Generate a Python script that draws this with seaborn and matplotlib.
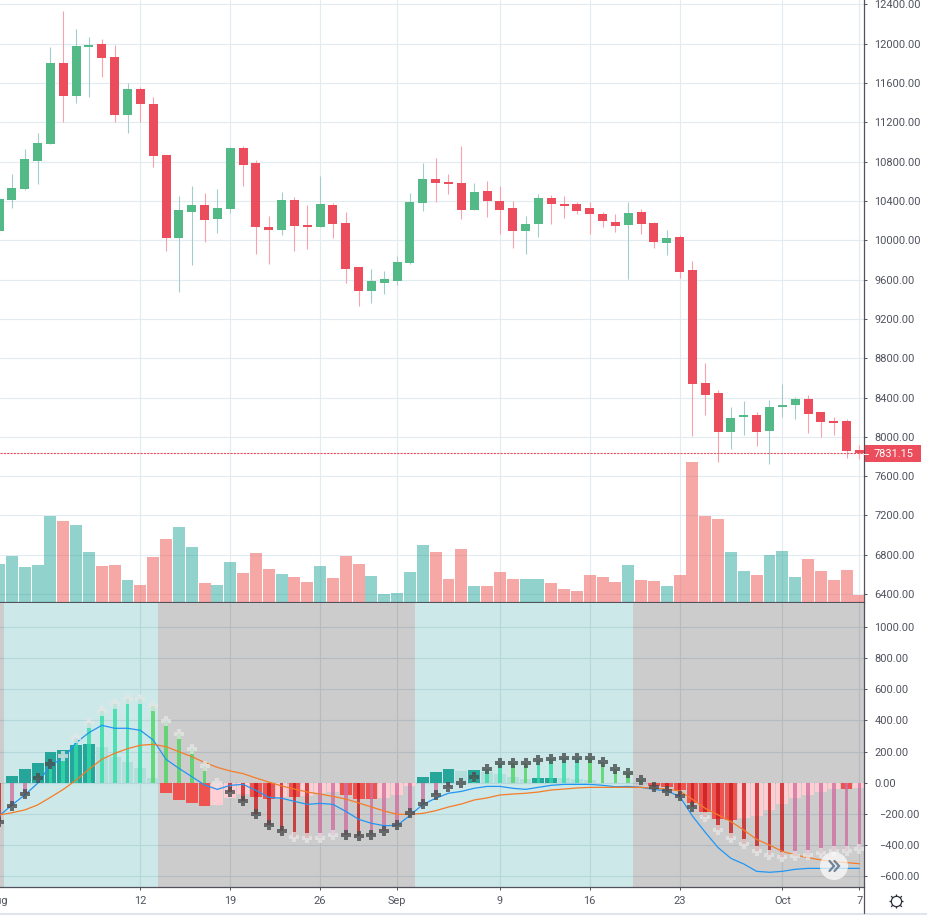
import numpy as np
import pandas as pd
import matplotlib
matplotlib.use("Agg")
import matplotlib.pyplot as plt
import seaborn as sns

# daily candles, 1 Aug to 7 Oct
opens = [10095, 10410, 10522, 10807, 10980, 11805, 11469, 11968, 11998, 11866, 11275, 11540, 11387, 10868,
         10023, 10288, 10359, 10217, 10319, 10940, 10787, 10135, 10105, 10410, 10156, 10135, 10359, 10176,
         9728, 9484, 9565, 9586, 9769, 10380, 10624, 10594, 10584, 10309, 10502, 10400, 10329, 10095,
         10166, 10431, 10370, 10370, 10329, 10268, 10187, 10156, 10288, 10176, 9973, 10034, 9698, 8548,
         8446, 8049, 8202, 8222, 8059, 8303, 8324, 8385, 8253, 8161, 8161, 7866]
closes = [10420, 10532, 10828, 10990, 11805, 11469, 11978, 11988, 11856, 11275, 11540, 11387, 10858, 10023,
          10308, 10359, 10207, 10329, 10940, 10766, 10135, 10105, 10410, 10146, 10135, 10369, 10166, 9708,
          9484, 9586, 9606, 9779, 10390, 10624, 10583, 10573, 10309, 10492, 10400, 10309, 10095, 10166,
          10431, 10370, 10349, 10298, 10268, 10197, 10146, 10278, 10166, 9983, 10024, 9678, 8538, 8426,
          8049, 8191, 8222, 8049, 8303, 8324, 8385, 8232, 8151, 8141, 7856, 7831.15]
highs = [10460, 10675, 10929, 11092, 11968, 12334, 12151, 12069, 12049, 11988, 11601, 11560, 11459, 10868,
         10451, 10553, 10481, 10522, 10950, 10960, 10817, 10247, 10492, 10441, 10359, 10654, 10380, 10288,
         9728, 9708, 9687, 9840, 10481, 10787, 10838, 10675, 10960, 10584, 10604, 10553, 10400, 10248,
         10472, 10461, 10451, 10390, 10390, 10288, 10268, 10390, 10319, 10187, 10105, 10054, 9790, 8751,
         8476, 8303, 8364, 8253, 8375, 8538, 8405, 8426, 8253, 8202, 8181, 7917]
lows = [10050, 10329, 10512, 10573, 10980, 11204, 11398, 11459, 11662, 11204, 11092, 11204, 10746, 9891,
        9474, 9749, 9983, 10074, 10278, 10553, 9860, 9759, 10054, 9891, 9911, 10135, 10023, 9565,
        9331, 9362, 9453, 9545, 9759, 10298, 10390, 10472, 10217, 10309, 10237, 10064, 9922, 9861,
        10034, 10166, 10227, 10268, 10064, 10136, 10085, 9606, 10064, 9922, 9851, 9616, 8008, 8222,
        7744, 7876, 8018, 7906, 7723, 8202, 8181, 8039, 7998, 8018, 7784, 7774]
volumes = [38, 46, 35, 37, 86, 81, 77, 50, 36, 37, 22, 17, 45, 63, 75, 55, 19, 17, 40, 29, 49, 33, 28,
           25, 20, 36, 24, 46, 38, 26, 8, 9, 30, 57, 50, 23, 53, 16, 16, 30, 23, 23, 23, 19, 13, 11, 27,
           25, 20, 37, 22, 21, 16, 27, 140, 86, 83, 50, 31, 27, 47, 51, 25, 43, 31, 22, 32, 7]

# lower panel indicator
hist = [0, 43, 88, 126, 197, 210, 242, 248, 229, 165, 133, 94, 30, -66, -111, -130, -150, -143, -98, -73,
        -92, -105, -92, -92, -86, -66, -60, -79, -105, -105, -98, -79, -21, 36, 68, 88, 75, 81, 68, 56, 36,
        24, 30, 30, 28, 24, 17, 0, 0, 0, 0, -21, -28, -47, -133, -190, -233, -240, -227, -214, -175, -137,
        -98, -79, -60, -41, -41, -34]
momentum = [-254, -150, -75, 28, 118, 173, 284, 381, 462, 505, 535, 537, 492, 394, 310, 214, 105, -4, -62,
            -120, -203, -274, -312, -351, -357, -357, -338, -338, -344, -338, -312, -274, -197, -139, -81,
            -26, 0, 39, 86, 124, 124, 124, 143, 150, 156, 158, 156, 130, 86, 60, 15, -30, -56, -88, -158,
            -222, -306, -357, -396, -441, -466, -479, -473, -466, -453, -441, -441, -428]
macd_line = [-214, -143, -79, -4, 113, 156, 257, 321, 368, 349, 349, 336, 274, 150, 92, 39, -15, -43, -17,
             -11, -49, -94, -100, -120, -139, -133, -139, -184, -235, -261, -276, -274, -210, -140, -100,
             -68, -56, -36, -24, -24, -36, -43, -30, -17, -11, -11, -11, -17, -26, -24, -30, -43, -53, -88,
             -214, -319, -417, -486, -522, -569, -575, -569, -556, -550, -550, -550, -550, -550]
signal_line = [-207, -193, -175, -143, -94, -43, 17, 86, 150, 188, 218, 240, 246, 231, 199, 167, 130, 98, 75,
               58, 30, 4, -21, -41, -60, -73, -88, -105, -130, -156, -182, -203, -203, -197, -180, -156,
               -137, -111, -98, -79, -73, -68, -60, -47, -41, -34, -30, -30, -30, -30, -30, -36, -41, -53,
               -107, -165, -207, -250, -304, -364, -400, -441, -464, -481, -496, -507, -513, -520]
cross_light = [0, 0, 0, 0, 0, 1, 1, 1, 1, 1, 1, 1, 1, 1, 1, 1, 1, 1, 0, 0, 0, 0, 0, 1, 1, 1, 1, 0, 0, 0, 0, 0,
               0, 0, 0, 0, 0, 0, 0, 0, 0, 0, 0, 0, 0, 0, 0, 0, 0, 0, 0, 0, 0, 0, 0, 1, 1, 1, 1, 1, 1, 1, 1, 1,
               1, 1, 1, 1]
squeeze_on = [0] + [1] * 12 + [0] * 20 + [1] * 17 + [0] * 18

price_ticks = list(range(6400, 12401, 400))
osc_ticks = list(range(-600, 1001, 200))
day_ticks = [11, 18, 25, 31, 39, 46, 53, 61, 67]
day_labels = ["12", "19", "26", "Sep", "9", "16", "23", "Oct", "7"]
last_price = 7831.15

W, H = 928, 917
TXT = "#50535E"
GRID = "#E1ECF2"
UP, DOWN = "#53B987", "#EB4D5C"
UP_WICK, DOWN_WICK = "#A3CCCB", "#F7A1AB"

sns.set_theme(style="white", rc={"axes.linewidth": 0.9, "axes.edgecolor": TXT})
plt.rcParams["font.family"] = ["Roboto", "DejaVu Sans"]

days = np.arange(len(opens))
df = pd.DataFrame({"day": days, "open": opens, "close": closes, "high": highs, "low": lows,
                   "volume": volumes, "hist": hist, "momentum": momentum,
                   "macd": macd_line, "signal": signal_line, "light": cross_light, "squeeze": squeeze_on})
df["up"] = df["close"] >= df["open"]
df["vol_kind"] = np.where(df["up"], "up", "down")

# colour states of the two indicator columns come from the direction of the series
hist_prev = df["hist"].shift(1).fillna(0)
df["hist_kind"] = np.select(
    [(df["hist"] > 0) & (df["hist"] >= hist_prev), df["hist"] > 0, (df["hist"] < 0) & (df["hist"] <= hist_prev)],
    ["pos_up", "pos_down", "neg_down"], "neg_up")
mom_prev = df["momentum"].shift(1).fillna(0)
df["mom_kind"] = np.select(
    [(df["momentum"] > 0) & (df["momentum"] > mom_prev), df["momentum"] > 0, df["momentum"] < mom_prev],
    ["pos_up", "pos_down", "neg_down"], "neg_up")

fig = plt.figure(figsize=(W / 100, H / 100), dpi=100, facecolor="white")


def px_axes(x0, y0, x1, y1):
    return fig.add_axes([x0 / W, 1 - y1 / H, (x1 - x0) / W, (y1 - y0) / H])


ax = px_axes(0, 0, 864, 602)
ax_osc = px_axes(0, 603, 864, 887)
ax_vol = ax.twinx()

# candles
ax.vlines(df["day"], df["low"], df["high"], colors=np.where(df["up"], UP_WICK, DOWN_WICK), lw=0.8, zorder=2)
ax.bar(df["day"], (df["close"] - df["open"]).abs(), bottom=df[["open", "close"]].min(axis=1), width=0.7,
       color=np.where(df["up"], UP, DOWN), linewidth=0, zorder=3)
ax.axhline(last_price, color=DOWN, lw=0.8, dashes=(2, 1), zorder=4)

# volume
sns.barplot(data=df, x="day", y="volume", hue="vol_kind", palette={"up": "#26A69A", "down": "#EF5350"},
            dodge=False, native_scale=True, width=0.93, errorbar=None, legend=False, saturation=1,
            alpha=0.5, linewidth=0, ax=ax_vol)

# squeeze background
runs = (df["squeeze"] != df["squeeze"].shift()).cumsum()
for _, run in df.groupby(runs):
    on = run["squeeze"].iloc[0] == 1
    ax_osc.axvspan(run["day"].iloc[0] - 0.62, run["day"].iloc[-1] + 0.38, lw=0, zorder=0.6, alpha=0.2,
                   color="#058C8C" if on else "#000000")

sns.barplot(data=df[df["hist"] != 0], x="day", y="hist", hue="hist_kind",
            palette={"pos_up": "#26A69A", "pos_down": "#B2DFDB", "neg_down": "#EF5350", "neg_up": "#FFCDD2"},
            dodge=False, native_scale=True, width=0.92, errorbar=None, legend=False, saturation=1,
            linewidth=0, ax=ax_osc)
sns.barplot(data=df, x="day", y="momentum", hue="mom_kind",
            palette={"pos_up": "#2FDDA6", "pos_down": "#4CD65F", "neg_down": "#C81E1E", "neg_up": "#D070A0"},
            dodge=False, native_scale=True, width=0.29, errorbar=None, legend=False, saturation=1,
            alpha=0.8, linewidth=0, ax=ax_osc)
sns.lineplot(data=df, x="day", y="macd", color="#2196F3", lw=0.9, errorbar=None, zorder=4, ax=ax_osc)
sns.lineplot(data=df, x="day", y="signal", color="#F57C28", lw=0.9, errorbar=None, zorder=4, ax=ax_osc)
sns.scatterplot(data=df[df["light"] == 0], x="day", y="momentum", marker="P", s=62, color="#4A4F50", alpha=0.8,
                linewidth=0, zorder=5, ax=ax_osc)
sns.scatterplot(data=df[df["light"] == 1], x="day", y="momentum", marker="P", s=62, color="#E6E6E6", alpha=0.75,
                linewidth=0, zorder=5, ax=ax_osc)

# axes
xlim = (0.07, 67.36)
for a in (ax, ax_osc, ax_vol):
    a.set_xlim(xlim)
    a.set_xlabel("")
    a.set_ylabel("")
ax.set_ylim(6318.6, 12445.8)
ax_vol.set_ylim(0, 602)
ax_vol.set_yticks([])
ax_osc.set_ylim(-669.5, 1153)

ax.set_yticks(price_ticks)
ax.set_yticklabels([f"{t:.2f}" for t in price_ticks])
ax_osc.set_yticks(osc_ticks)
ax_osc.set_yticklabels([f"{t:.2f}".replace("-", "\u2212") for t in osc_ticks])
ax.set_xticks(day_ticks)
ax_vol.set_xticks(day_ticks)
ax_osc.set_xticks(day_ticks)
ax_osc.set_xticklabels(day_labels)

for a in (ax, ax_osc):
    a.set_axisbelow(True)
    a.grid(True, color=GRID, lw=0.8)
    a.yaxis.tick_right()
    a.tick_params(axis="y", length=2.4, width=0.7, color=TXT, pad=5.2, labelsize=7.9, labelcolor=TXT,
                  right=True, left=False)
    a.tick_params(axis="x", length=0, labelbottom=False)
ax_osc.tick_params(axis="x", length=2.4, width=0.7, color=TXT, labelbottom=True, pad=4.2, labelsize=7.9,
                   labelcolor=TXT, bottom=True)
for t, v in zip(ax_osc.yaxis.get_major_ticks(), osc_ticks):
    if v < 0:
        t.set_pad(8.2)
ax_vol.tick_params(axis="both", length=0, labelbottom=False, labelright=False)

for a in (ax, ax_osc, ax_vol):
    a.spines["top"].set_visible(False)
    a.spines["left"].set_visible(False)
ax_vol.spines["bottom"].set_visible(False)
ax_vol.spines["right"].set_visible(False)

# overlay in pixel coordinates: price tag, footer, scroll button, settings icon
over = fig.add_axes([0, 0, 1, 1], zorder=10)
over.set_xlim(0, W)
over.set_ylim(H, 0)
over.axis("off")
over.add_patch(plt.Rectangle((865, 445), 56, 17, color=DOWN, lw=0))
over.plot([864, 868], [453.5, 453.5], color="white", lw=0.7)
over.text(874, 453.8, f"{last_price:.2f}", color="white", fontsize=7.9, va="center", ha="left")
over.text(-1, 901.5, "Aug", color=TXT, fontsize=7.9, va="center", ha="center")
over.plot([864, 864], [887, 912.5], color=TXT, lw=0.9)
over.add_patch(plt.Rectangle((0, 912.5), W, 2.5, color="#E0E3EB", lw=0))
over.add_patch(plt.Circle((834, 866), 14, color="white", alpha=0.7, lw=0))
for shift in (0, 5):
    over.plot(np.array([829.5, 834, 829.5]) + shift, [861, 866, 871], color="#6E8499", lw=1.6,
              solid_joinstyle="miter")
over.scatter([896], [901], marker="+", s=115, color="#2A2E39", linewidth=0.9)
over.scatter([896], [901], marker="x", s=60, color="#2A2E39", linewidth=0.9)
over.scatter([896], [901], marker="o", s=55, facecolor="white", edgecolor="#2A2E39", linewidth=0.9)

fig.savefig("out.png", dpi=100)
